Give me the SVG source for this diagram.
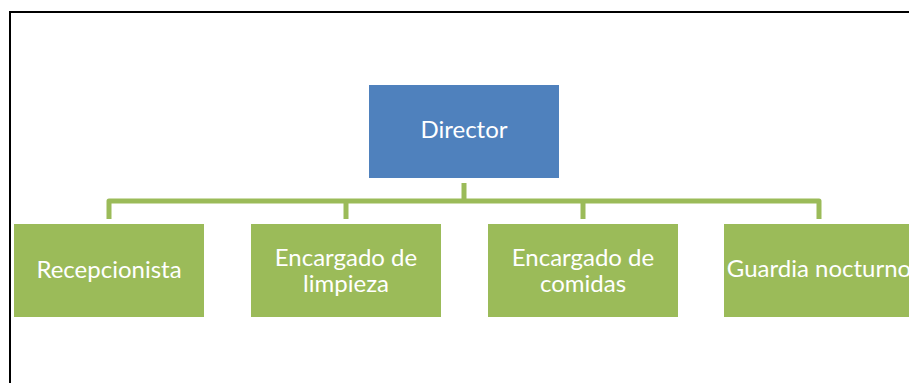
<svg xmlns="http://www.w3.org/2000/svg" width="909" height="383" viewBox="0 0 909 383">
<style>
.frame{fill:none;stroke:#000;stroke-width:2}
.boss{fill:#4F81BD}
.staff{fill:#9BBB59}
.lbl{font-family:Lato,"Liberation Sans",sans-serif;font-size:24px;fill:#fff;text-anchor:middle}
.conn{fill:none;stroke:#9BBB59;stroke-width:5;stroke-linejoin:round}
</style>
<rect width="909" height="383" fill="#fff"/>
<path class="frame" d="M10,383 V12 H909"/>
<g id="connectors">
<path class="conn" d="M464,183 V201"/>
<path class="conn" d="M109,219 V201 H819 V219"/>
<path class="conn" d="M346,201 V219"/>
<path class="conn" d="M583,201 V219"/>
</g>
<g id="director">
<rect class="boss" x="369" y="85" width="190" height="93"/>
<text class="lbl" x="464" y="138">Director</text>
</g>
<g id="recepcionista">
<rect class="staff" x="14" y="224" width="190" height="93"/>
<text class="lbl" x="109" y="277.5">Recepcionista</text>
</g>
<g id="limpieza">
<rect class="staff" x="251" y="224" width="190" height="93"/>
<text class="lbl" x="346" y="265.5">Encargado de</text>
<text class="lbl" x="346" y="292">limpieza</text>
</g>
<g id="comidas">
<rect class="staff" x="488" y="224" width="190" height="93"/>
<text class="lbl" x="583" y="265.5">Encargado de</text>
<text class="lbl" x="583" y="292">comidas</text>
</g>
<g id="guardia">
<rect class="staff" x="724" y="224" width="190" height="93"/>
<text class="lbl" x="819" y="277">Guardia nocturno</text>
</g>
</svg>
